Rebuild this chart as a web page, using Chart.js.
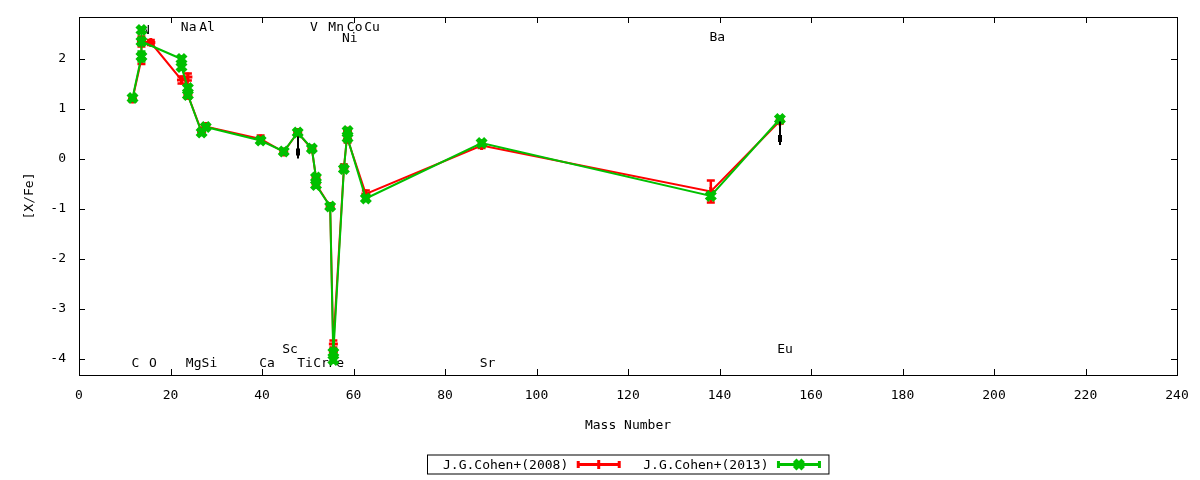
<!DOCTYPE html>
<html><head><meta charset="utf-8">
<script src="https://cdn.jsdelivr.net/npm/chart.js@4.4.1/dist/chart.umd.min.js"></script>
<style>html,body{margin:0;padding:0;background:#fff;}#wrap{width:1200px;height:480px;}</style>
</head><body><div id="wrap"><canvas id="c" width="1200" height="480"></canvas></div>
<script>
const xTicks = [0,20,40,60,80,100,120,140,160,180,200,220,240];
const yTicks = [-4,-3,-2,-1,0,1,2];

const cohen2008Mass  = [11.7,13.65,13.65,15.7,22.4,23.8,23.8,26.8,27.7,39.7,44.75,47.8,50.9,51.8,51.8,54.9,55.6,55.6,57.9,58.7,58.7,62.7,88.0,138.1,153.2];
const cohen2008Value = [1.2,2.0,2.35,2.33,1.58,1.64,1.28,0.55,0.65,0.4,0.14,0.53,0.2,-0.37,-0.5,-0.95,-3.85,-3.7,-0.18,0.55,0.4,-0.7,0.27,-0.65,0.76];
const cohen2008Err   = [0.05,0.1,0.1,0.05,0.07,0.07,0.07,0.05,0.05,0.07,0.05,0.05,0.05,0.05,0.05,0.05,0.07,0.07,0.07,0.07,0.07,0.07,0.05,0.22,0.05];

const cohen2013Mass  = [11.7,13.65,13.65,13.65,22.4,22.4,23.8,23.8,26.8,27.7,39.7,44.75,47.8,50.9,51.8,51.8,54.9,55.6,55.6,57.9,58.7,58.7,62.7,88.0,138.1,153.2];
const cohen2013Value = [1.22,2.05,2.58,2.35,2.0,1.84,1.42,1.28,0.53,0.64,0.37,0.15,0.53,0.21,-0.37,-0.52,-0.95,-4.02,-3.87,-0.2,0.56,0.42,-0.79,0.32,-0.74,0.8];
const cohen2013Err   = [0.05,0.1,0.05,0.05,0.05,0.05,0.05,0.05,0.05,0.05,0.05,0.05,0.05,0.05,0.05,0.05,0.05,0.05,0.05,0.05,0.05,0.05,0.05,0.05,0.05,0.05];

const limitMass   = [47.8,153.2];
const limitTop    = [0.45,0.75];
const limitBottom = [0.01,0.28];

const labelNames = ['N','Na','Al','V','Mn','Co','Cu','Ni','Ba','C','O','Mg','Si','Ca','Sc','Ti','Cr','Fe','Sr','Eu'];
const labelMass  = [13.75,22.26,26.27,50.5,54.5,58.55,62.35,57.46,137.8,11.46,15.3,23.35,26.8,39.4,44.4,47.7,51.2,54.5,87.6,152.6];
const labelValue = [2.56,2.62,2.62,2.62,2.62,2.62,2.62,2.41,2.43,-4.09,-4.09,-4.09,-4.09,-4.09,-3.82,-4.09,-4.09,-4.09,-4.09,-3.82];

const FONT = {family:'"DejaVu Sans Mono", monospace', size:13};
const FONTSTR = '13px "DejaVu Sans Mono", monospace';
Chart.defaults.font.family = FONT.family;
Chart.defaults.font.size = 13;
Chart.defaults.color = '#000';

const toPts = (xs, ys) => xs.map((x,i)=>({x:x,y:ys[i]}));

const decorPlugin = {
  id:'decor',
  beforeDatasetsDraw(chart){
    const {ctx, chartArea:a, scales:{x, y}} = chart;
    ctx.save();
    ctx.strokeStyle = '#000'; ctx.lineWidth = 1;
    ctx.strokeRect(a.left+0.5, a.top+0.5, a.right-a.left, a.bottom-a.top);
    const tl = 6;
    ctx.beginPath();
    x.ticks.forEach(t=>{
      const px = Math.round(x.getPixelForValue(t.value))+0.5;
      ctx.moveTo(px, a.bottom); ctx.lineTo(px, a.bottom-tl);
      ctx.moveTo(px, a.top); ctx.lineTo(px, a.top+tl);
    });
    y.ticks.forEach(t=>{
      const py = Math.round(y.getPixelForValue(t.value))+0.5;
      ctx.moveTo(a.left, py); ctx.lineTo(a.left+tl, py);
      ctx.moveTo(a.right, py); ctx.lineTo(a.right-tl, py);
    });
    ctx.stroke();
    ctx.fillStyle = '#000'; ctx.font = FONTSTR; ctx.textAlign = 'left'; ctx.textBaseline = 'middle';
    labelNames.forEach((n,i)=>{
      ctx.fillText(n, x.getPixelForValue(labelMass[i]), y.getPixelForValue(labelValue[i]));
    });
    ctx.restore();
  },
  beforeDatasetDraw(chart, args){
    const ds = chart.data.datasets[args.index];
    const {ctx, scales:{x, y}} = chart;
    ctx.save();
    ctx.strokeStyle = ds.borderColor; ctx.lineWidth = 2.5;
    ctx.beginPath();
    ds.data.forEach((p,i)=>{
      const e = ds.errors[i];
      const px = x.getPixelForValue(p.x);
      const y1 = y.getPixelForValue(p.y - e), y2 = y.getPixelForValue(p.y + e);
      ctx.moveTo(px, y1); ctx.lineTo(px, y2);
      ctx.moveTo(px-4, y1); ctx.lineTo(px+4, y1);
      ctx.moveTo(px-4, y2); ctx.lineTo(px+4, y2);
    });
    ctx.stroke();
    ctx.restore();
  },
  afterDatasetsDraw(chart){
    const {ctx, scales:{x, y}} = chart;
    ctx.save();
    ctx.strokeStyle = '#000'; ctx.fillStyle = '#000'; ctx.lineWidth = 2;
    limitMass.forEach((m,i)=>{
      const px = Math.round(x.getPixelForValue(m));
      const yt = y.getPixelForValue(limitTop[i]), yb = y.getPixelForValue(limitBottom[i]);
      ctx.beginPath(); ctx.moveTo(px, yt); ctx.lineTo(px, yb); ctx.stroke();
      const b1 = y.getPixelForValue(limitBottom[i]+0.2), b2 = y.getPixelForValue(limitBottom[i]+0.06);
      ctx.fillRect(px-2, b1, 4, b2-b1);
    });
    ctx.restore();
  },
  afterDraw(chart){
    const {ctx, chartArea:a} = chart;
    const dss = chart.data.datasets;
    ctx.save();
    ctx.font = FONTSTR; ctx.textBaseline = 'middle'; ctx.textAlign = 'left';
    const padL = 16, gapTS = 9, sampleW = 43, gapSE = 23, padR = 8;
    const widths = dss.map(d=>ctx.measureText(d.label).width);
    let total = padL + padR + gapSE*(dss.length-1);
    widths.forEach(w=> total += w + gapTS + sampleW);
    const left = Math.round((a.left+a.right)/2 - total/2);
    const cy = chart.height - 15.5;
    ctx.strokeStyle = '#000'; ctx.lineWidth = 1;
    ctx.strokeRect(left+0.5, cy-9.5, total, 19);
    let cx = left + padL;
    dss.forEach((d,i)=>{
      ctx.fillStyle = '#000';
      ctx.fillText(d.label, cx, cy+1);
      cx += widths[i] + gapTS;
      ctx.strokeStyle = d.borderColor; ctx.fillStyle = d.borderColor; ctx.lineWidth = 3;
      ctx.beginPath();
      ctx.moveTo(cx, cy); ctx.lineTo(cx+sampleW, cy);
      ctx.moveTo(cx+1, cy-3.5); ctx.lineTo(cx+1, cy+3.5);
      ctx.moveTo(cx+sampleW-1, cy-3.5); ctx.lineTo(cx+sampleW-1, cy+3.5);
      ctx.stroke();
      ctx.lineWidth = d.pointBorderWidth;
      Chart.helpers.drawPoint(ctx, {pointStyle:d.pointStyle, radius:d.pointRadius, rotation:0, borderWidth:d.pointBorderWidth}, cx+sampleW/2, cy);
      cx += sampleW + gapSE;
    });
    ctx.restore();
  }
};

new Chart(document.getElementById('c'), {
  type:'line',
  data:{datasets:[
    {label:'J.G.Cohen+(2008)', data:toPts(cohen2008Mass, cohen2008Value), errors:cohen2008Err,
     borderColor:'#ff0000', backgroundColor:'#ff0000', borderWidth:2, pointStyle:'cross', pointRadius:4.5,
     pointBorderWidth:3, pointBackgroundColor:'#ff0000', pointBorderColor:'#ff0000', tension:0, order:2},
    {label:'J.G.Cohen+(2013)', data:toPts(cohen2013Mass, cohen2013Value), errors:cohen2013Err,
     borderColor:'#00c000', backgroundColor:'#00c000', borderWidth:2, pointStyle:'crossRot', pointRadius:6,
     pointBorderWidth:5, pointBackgroundColor:'#00c000', pointBorderColor:'#00c000', tension:0, order:1}
  ]},
  options:{
    responsive:false, animation:false, devicePixelRatio:1,
    layout:{padding:{top:17, right:23, left:0, bottom:0}},
    plugins:{legend:{display:false}, tooltip:{enabled:false}},
    scales:{
      x:{type:'linear', min:0, max:240,
         afterBuildTicks:s=>{s.ticks = xTicks.map(v=>({value:v}));},
         afterFit:s=>{s.height = 105; s.paddingLeft = 0; s.paddingRight = 0;},
         grid:{display:false, drawTicks:false}, border:{display:false},
         ticks:{font:FONT, color:'#000', padding:13, maxRotation:0, autoSkip:false},
         title:{display:true, text:'Mass Number', font:FONT, color:'#000', padding:{top:0,bottom:47}}},
      y:{type:'linear', min:-4.32, max:2.84,
         afterBuildTicks:s=>{s.ticks = yTicks.map(v=>({value:v}));},
         afterFit:s=>{s.width = 79; s.paddingTop = 0; s.paddingBottom = 0;},
         grid:{display:false, drawTicks:false}, border:{display:false},
         ticks:{font:FONT, color:'#000', padding:13, autoSkip:false},
         title:{display:true, text:'[X/Fe]', font:FONT, color:'#000', padding:{top:22,bottom:0}}}
    }
  },
  plugins:[decorPlugin]
});
</script></body></html>
